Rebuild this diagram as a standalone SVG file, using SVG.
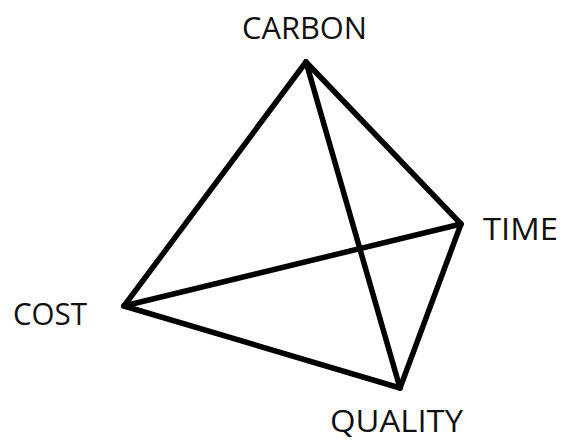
<svg xmlns="http://www.w3.org/2000/svg" width="561" height="441" viewBox="0 0 561 441">
<style>
.e{stroke:#000;stroke-width:5.5;stroke-linecap:round;stroke-linejoin:round;fill:none}
.t{font-family:"Open Sans","Liberation Sans",sans-serif;font-size:31px;fill:#111}
</style>
<rect width="561" height="441" fill="#fff"/>
<g id="connectors">
<line class="e" x1="306" y1="62" x2="124" y2="306"/>
<line class="e" x1="306" y1="62" x2="461" y2="224"/>
<line class="e" x1="306" y1="62" x2="400" y2="388"/>
<line class="e" x1="124" y1="306" x2="461" y2="224"/>
<line class="e" x1="124" y1="306" x2="400" y2="388"/>
<line class="e" x1="461" y1="224" x2="400" y2="388"/>
</g>
<g id="carbon"><text class="t" x="242" y="39" textLength="125" lengthAdjust="spacingAndGlyphs">CARBON</text></g>
<g id="time"><text class="t" x="483" y="240" textLength="75" lengthAdjust="spacingAndGlyphs">TIME</text></g>
<g id="cost"><text class="t" x="13" y="325" textLength="74" lengthAdjust="spacingAndGlyphs">COST</text></g>
<g id="quality"><text class="t" x="330" y="432" textLength="133" lengthAdjust="spacingAndGlyphs">QUALITY</text></g>
</svg>
